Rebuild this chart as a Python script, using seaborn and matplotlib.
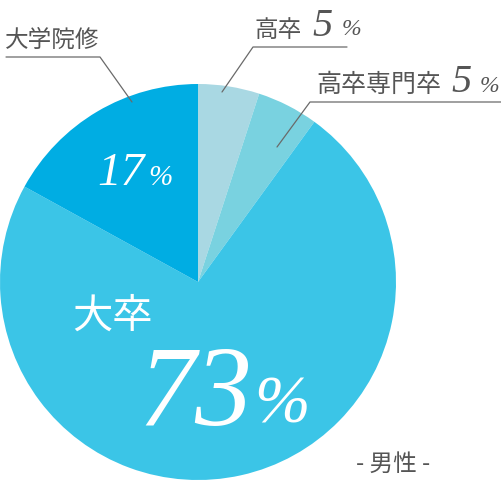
import matplotlib
matplotlib.use('Agg')
import matplotlib.pyplot as plt
import seaborn as sns

# 学歴別の割合（男性）
labels = ['高卒', '高卒専門卒', '大卒', '大学院修']
shares = [5, 5, 73, 17]
colors = ['#a9d8e3', '#79d2e0', '#3bc5e7', '#00ade3']
caption = '- 男性 -'

sns.set_theme(style='white')
plt.rcParams['font.family'] = ['Noto Sans CJK JP', 'DejaVu Sans']

W, H = 502, 481
fig = plt.figure(figsize=(W / 100, H / 100), dpi=100)
ax = fig.add_axes([0, 0, 1, 1])

# 12時から時計回り
ax.pie(shares, colors=colors, startangle=90, counterclock=False,
       center=(198, H - 283), radius=198,
       wedgeprops=dict(linewidth=0), frame=False)
ax.set_xlim(0, W)
ax.set_ylim(0, H)
ax.set_aspect('equal')
ax.axis('off')

gray = '#555555'
line_c = '#6a6a6a'
num_font = dict(family='Liberation Serif', style='italic')


def y(v):
    # 画面座標(上から)をデータ座標へ
    return H - v


# 高卒 5%
ax.text(255, y(37), labels[0], fontsize=17, color=gray, va='baseline')
ax.text(312, y(36), str(shares[0]), fontsize=29, color=gray, va='baseline', **num_font)
ax.text(342, y(35), '%', fontsize=17, color=gray, va='baseline', **num_font)
ax.plot([347, 253, 222], [y(48), y(48), y(93)], color=line_c, lw=0.9)

# 高卒専門卒 5%
ax.text(316, y(92), labels[1], fontsize=18, color=gray, va='baseline')
ax.text(451, y(92), str(shares[1]), fontsize=29, color=gray, va='baseline', **num_font)
ax.text(480, y(92), '%', fontsize=17, color=gray, va='baseline', **num_font)
ax.plot([502, 310, 277], [y(103), y(103), y(148)], color=line_c, lw=0.9)

# 大学院修 17%
ax.text(5, y(47), labels[3], fontsize=17, color=gray, va='baseline')
ax.plot([6, 100, 132], [y(58), y(58), y(103)], color=line_c, lw=0.9)
ax.text(97, y(185), str(shares[3]), fontsize=34, color='white', va='baseline', **num_font)
ax.text(148, y(185), '%', fontsize=21, color='white', va='baseline', **num_font)

# 大卒 73%
ax.text(72, y(328), labels[2], fontsize=29, color='white', va='baseline')
ax.text(138, y(425), str(shares[2]), fontsize=82, color='white', va='baseline', **num_font)
ax.text(254, y(423), '%', fontsize=48, color='white', va='baseline', **num_font)

ax.text(356, y(471), caption, fontsize=17, color=gray, va='baseline')

fig.savefig('out.png', dpi=100)
